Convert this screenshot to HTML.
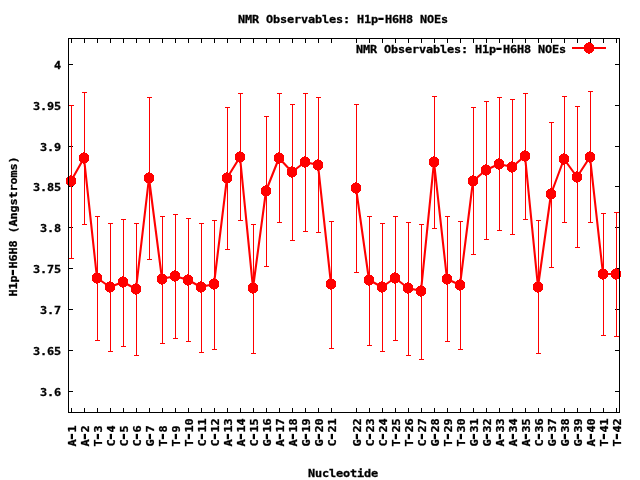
<!DOCTYPE html>
<html><head><meta charset="utf-8"><title>NMR Observables: H1p-H6H8 NOEs</title>
<style>html,body{margin:0;padding:0;background:#fff;overflow:hidden}svg{display:block}text{font-family:"DejaVu Sans Mono","Liberation Mono",monospace;font-weight:bold;font-size:11.63px;fill:#000;stroke:#000;stroke-width:0.3px}</style></head><body>
<svg width="640" height="480" viewBox="0 0 640 480">
<rect width="640" height="480" fill="#fff"/>
<g fill="#000" shape-rendering="crispEdges">
<rect x="68" y="64" width="5" height="1"/><rect x="615" y="64" width="5" height="1"/>
<rect x="68" y="105" width="5" height="1"/><rect x="615" y="105" width="5" height="1"/>
<rect x="68" y="146" width="5" height="1"/><rect x="615" y="146" width="5" height="1"/>
<rect x="68" y="186" width="5" height="1"/><rect x="615" y="186" width="5" height="1"/>
<rect x="68" y="227" width="5" height="1"/><rect x="615" y="227" width="5" height="1"/>
<rect x="68" y="268" width="5" height="1"/><rect x="615" y="268" width="5" height="1"/>
<rect x="68" y="309" width="5" height="1"/><rect x="615" y="309" width="5" height="1"/>
<rect x="68" y="350" width="5" height="1"/><rect x="615" y="350" width="5" height="1"/>
<rect x="68" y="391" width="5" height="1"/><rect x="615" y="391" width="5" height="1"/>
<rect x="71" y="38" width="1" height="5"/><rect x="71" y="408" width="1" height="5"/>
<rect x="84" y="38" width="1" height="5"/><rect x="84" y="408" width="1" height="5"/>
<rect x="97" y="38" width="1" height="5"/><rect x="97" y="408" width="1" height="5"/>
<rect x="110" y="38" width="1" height="5"/><rect x="110" y="408" width="1" height="5"/>
<rect x="123" y="38" width="1" height="5"/><rect x="123" y="408" width="1" height="5"/>
<rect x="136" y="38" width="1" height="5"/><rect x="136" y="408" width="1" height="5"/>
<rect x="149" y="38" width="1" height="5"/><rect x="149" y="408" width="1" height="5"/>
<rect x="162" y="38" width="1" height="5"/><rect x="162" y="408" width="1" height="5"/>
<rect x="175" y="38" width="1" height="5"/><rect x="175" y="408" width="1" height="5"/>
<rect x="188" y="38" width="1" height="5"/><rect x="188" y="408" width="1" height="5"/>
<rect x="201" y="38" width="1" height="5"/><rect x="201" y="408" width="1" height="5"/>
<rect x="214" y="38" width="1" height="5"/><rect x="214" y="408" width="1" height="5"/>
<rect x="227" y="38" width="1" height="5"/><rect x="227" y="408" width="1" height="5"/>
<rect x="240" y="38" width="1" height="5"/><rect x="240" y="408" width="1" height="5"/>
<rect x="253" y="38" width="1" height="5"/><rect x="253" y="408" width="1" height="5"/>
<rect x="266" y="38" width="1" height="5"/><rect x="266" y="408" width="1" height="5"/>
<rect x="279" y="38" width="1" height="5"/><rect x="279" y="408" width="1" height="5"/>
<rect x="292" y="38" width="1" height="5"/><rect x="292" y="408" width="1" height="5"/>
<rect x="305" y="38" width="1" height="5"/><rect x="305" y="408" width="1" height="5"/>
<rect x="318" y="38" width="1" height="5"/><rect x="318" y="408" width="1" height="5"/>
<rect x="331" y="38" width="1" height="5"/><rect x="331" y="408" width="1" height="5"/>
<rect x="356" y="38" width="1" height="5"/><rect x="356" y="408" width="1" height="5"/>
<rect x="369" y="38" width="1" height="5"/><rect x="369" y="408" width="1" height="5"/>
<rect x="382" y="38" width="1" height="5"/><rect x="382" y="408" width="1" height="5"/>
<rect x="395" y="38" width="1" height="5"/><rect x="395" y="408" width="1" height="5"/>
<rect x="408" y="38" width="1" height="5"/><rect x="408" y="408" width="1" height="5"/>
<rect x="421" y="38" width="1" height="5"/><rect x="421" y="408" width="1" height="5"/>
<rect x="434" y="38" width="1" height="5"/><rect x="434" y="408" width="1" height="5"/>
<rect x="447" y="38" width="1" height="5"/><rect x="447" y="408" width="1" height="5"/>
<rect x="460" y="38" width="1" height="5"/><rect x="460" y="408" width="1" height="5"/>
<rect x="473" y="38" width="1" height="5"/><rect x="473" y="408" width="1" height="5"/>
<rect x="486" y="38" width="1" height="5"/><rect x="486" y="408" width="1" height="5"/>
<rect x="499" y="38" width="1" height="5"/><rect x="499" y="408" width="1" height="5"/>
<rect x="512" y="38" width="1" height="5"/><rect x="512" y="408" width="1" height="5"/>
<rect x="525" y="38" width="1" height="5"/><rect x="525" y="408" width="1" height="5"/>
<rect x="538" y="38" width="1" height="5"/><rect x="538" y="408" width="1" height="5"/>
<rect x="551" y="38" width="1" height="5"/><rect x="551" y="408" width="1" height="5"/>
<rect x="564" y="38" width="1" height="5"/><rect x="564" y="408" width="1" height="5"/>
<rect x="577" y="38" width="1" height="5"/><rect x="577" y="408" width="1" height="5"/>
<rect x="590" y="38" width="1" height="5"/><rect x="590" y="408" width="1" height="5"/>
<rect x="603" y="38" width="1" height="5"/><rect x="603" y="408" width="1" height="5"/>
<rect x="616" y="38" width="1" height="5"/><rect x="616" y="408" width="1" height="5"/>
</g>
<g fill="#ff0000" shape-rendering="crispEdges">
<rect x="71" y="105" width="1" height="154"/><rect x="69" y="105" width="5" height="1"/><rect x="69" y="258" width="5" height="1"/>
<rect x="84" y="92" width="1" height="133"/><rect x="82" y="92" width="5" height="1"/><rect x="82" y="224" width="5" height="1"/>
<rect x="97" y="216" width="1" height="125"/><rect x="95" y="216" width="5" height="1"/><rect x="95" y="340" width="5" height="1"/>
<rect x="110" y="223" width="1" height="129"/><rect x="108" y="223" width="5" height="1"/><rect x="108" y="351" width="5" height="1"/>
<rect x="123" y="219" width="1" height="128"/><rect x="121" y="219" width="5" height="1"/><rect x="121" y="346" width="5" height="1"/>
<rect x="136" y="223" width="1" height="133"/><rect x="134" y="223" width="5" height="1"/><rect x="134" y="355" width="5" height="1"/>
<rect x="149" y="97" width="1" height="163"/><rect x="147" y="97" width="5" height="1"/><rect x="147" y="259" width="5" height="1"/>
<rect x="162" y="216" width="1" height="128"/><rect x="160" y="216" width="5" height="1"/><rect x="160" y="343" width="5" height="1"/>
<rect x="175" y="214" width="1" height="125"/><rect x="173" y="214" width="5" height="1"/><rect x="173" y="338" width="5" height="1"/>
<rect x="188" y="218" width="1" height="124"/><rect x="186" y="218" width="5" height="1"/><rect x="186" y="341" width="5" height="1"/>
<rect x="201" y="223" width="1" height="130"/><rect x="199" y="223" width="5" height="1"/><rect x="199" y="352" width="5" height="1"/>
<rect x="214" y="220" width="1" height="130"/><rect x="212" y="220" width="5" height="1"/><rect x="212" y="349" width="5" height="1"/>
<rect x="227" y="107" width="1" height="143"/><rect x="225" y="107" width="5" height="1"/><rect x="225" y="249" width="5" height="1"/>
<rect x="240" y="93" width="1" height="128"/><rect x="238" y="93" width="5" height="1"/><rect x="238" y="220" width="5" height="1"/>
<rect x="253" y="224" width="1" height="130"/><rect x="251" y="224" width="5" height="1"/><rect x="251" y="353" width="5" height="1"/>
<rect x="266" y="116" width="1" height="151"/><rect x="264" y="116" width="5" height="1"/><rect x="264" y="266" width="5" height="1"/>
<rect x="279" y="93" width="1" height="130"/><rect x="277" y="93" width="5" height="1"/><rect x="277" y="222" width="5" height="1"/>
<rect x="292" y="104" width="1" height="137"/><rect x="290" y="104" width="5" height="1"/><rect x="290" y="240" width="5" height="1"/>
<rect x="305" y="93" width="1" height="139"/><rect x="303" y="93" width="5" height="1"/><rect x="303" y="231" width="5" height="1"/>
<rect x="318" y="97" width="1" height="136"/><rect x="316" y="97" width="5" height="1"/><rect x="316" y="232" width="5" height="1"/>
<rect x="331" y="221" width="1" height="128"/><rect x="329" y="221" width="5" height="1"/><rect x="329" y="348" width="5" height="1"/>
<rect x="356" y="104" width="1" height="169"/><rect x="354" y="104" width="5" height="1"/><rect x="354" y="272" width="5" height="1"/>
<rect x="369" y="216" width="1" height="130"/><rect x="367" y="216" width="5" height="1"/><rect x="367" y="345" width="5" height="1"/>
<rect x="382" y="223" width="1" height="129"/><rect x="380" y="223" width="5" height="1"/><rect x="380" y="351" width="5" height="1"/>
<rect x="395" y="216" width="1" height="125"/><rect x="393" y="216" width="5" height="1"/><rect x="393" y="340" width="5" height="1"/>
<rect x="408" y="222" width="1" height="134"/><rect x="406" y="222" width="5" height="1"/><rect x="406" y="355" width="5" height="1"/>
<rect x="421" y="224" width="1" height="136"/><rect x="419" y="224" width="5" height="1"/><rect x="419" y="359" width="5" height="1"/>
<rect x="434" y="96" width="1" height="133"/><rect x="432" y="96" width="5" height="1"/><rect x="432" y="228" width="5" height="1"/>
<rect x="447" y="216" width="1" height="126"/><rect x="445" y="216" width="5" height="1"/><rect x="445" y="341" width="5" height="1"/>
<rect x="460" y="221" width="1" height="129"/><rect x="458" y="221" width="5" height="1"/><rect x="458" y="349" width="5" height="1"/>
<rect x="473" y="107" width="1" height="148"/><rect x="471" y="107" width="5" height="1"/><rect x="471" y="254" width="5" height="1"/>
<rect x="486" y="101" width="1" height="139"/><rect x="484" y="101" width="5" height="1"/><rect x="484" y="239" width="5" height="1"/>
<rect x="499" y="97" width="1" height="134"/><rect x="497" y="97" width="5" height="1"/><rect x="497" y="230" width="5" height="1"/>
<rect x="512" y="99" width="1" height="136"/><rect x="510" y="99" width="5" height="1"/><rect x="510" y="234" width="5" height="1"/>
<rect x="525" y="93" width="1" height="127"/><rect x="523" y="93" width="5" height="1"/><rect x="523" y="219" width="5" height="1"/>
<rect x="538" y="220" width="1" height="134"/><rect x="536" y="220" width="5" height="1"/><rect x="536" y="353" width="5" height="1"/>
<rect x="551" y="122" width="1" height="146"/><rect x="549" y="122" width="5" height="1"/><rect x="549" y="267" width="5" height="1"/>
<rect x="564" y="96" width="1" height="127"/><rect x="562" y="96" width="5" height="1"/><rect x="562" y="222" width="5" height="1"/>
<rect x="577" y="106" width="1" height="142"/><rect x="575" y="106" width="5" height="1"/><rect x="575" y="247" width="5" height="1"/>
<rect x="590" y="91" width="1" height="132"/><rect x="588" y="91" width="5" height="1"/><rect x="588" y="222" width="5" height="1"/>
<rect x="603" y="213" width="1" height="123"/><rect x="601" y="213" width="5" height="1"/><rect x="601" y="335" width="5" height="1"/>
<rect x="616" y="212" width="1" height="125"/><rect x="614" y="212" width="5" height="1"/><rect x="614" y="336" width="5" height="1"/>
</g>
<g fill="none" stroke="#ff0000" stroke-width="2.1" stroke-linejoin="round" stroke-linecap="butt">
<polyline points="71,181 84,158 97,278 110,287 123,282 136,289 149,178 162,279 175,276 188,280 201,287 214,284 227,178 240,157 253,288 266,191 279,158 292,172 305,162 318,165 331,284"/>
<polyline points="356,188 369,280 382,287 395,278 408,288 421,291 434,162 447,279 460,285 473,181 486,170 499,164 512,167 525,156 538,287 551,194 564,159 577,177 590,157 603,274 616,274"/>
<line x1="572" y1="48" x2="606" y2="48"/>
</g>
<defs><g id="m" shape-rendering="crispEdges"><rect x="-1" y="-6" width="2" height="12"/><rect x="-3" y="-5" width="6" height="10"/><rect x="-4" y="-4" width="8" height="8"/><rect x="-5" y="-3" width="10" height="6"/></g></defs>
<g fill="#ff0000">
<use href="#m" x="71" y="181"/>
<use href="#m" x="84" y="158"/>
<use href="#m" x="97" y="278"/>
<use href="#m" x="110" y="287"/>
<use href="#m" x="123" y="282"/>
<use href="#m" x="136" y="289"/>
<use href="#m" x="149" y="178"/>
<use href="#m" x="162" y="279"/>
<use href="#m" x="175" y="276"/>
<use href="#m" x="188" y="280"/>
<use href="#m" x="201" y="287"/>
<use href="#m" x="214" y="284"/>
<use href="#m" x="227" y="178"/>
<use href="#m" x="240" y="157"/>
<use href="#m" x="253" y="288"/>
<use href="#m" x="266" y="191"/>
<use href="#m" x="279" y="158"/>
<use href="#m" x="292" y="172"/>
<use href="#m" x="305" y="162"/>
<use href="#m" x="318" y="165"/>
<use href="#m" x="331" y="284"/>
<use href="#m" x="356" y="188"/>
<use href="#m" x="369" y="280"/>
<use href="#m" x="382" y="287"/>
<use href="#m" x="395" y="278"/>
<use href="#m" x="408" y="288"/>
<use href="#m" x="421" y="291"/>
<use href="#m" x="434" y="162"/>
<use href="#m" x="447" y="279"/>
<use href="#m" x="460" y="285"/>
<use href="#m" x="473" y="181"/>
<use href="#m" x="486" y="170"/>
<use href="#m" x="499" y="164"/>
<use href="#m" x="512" y="167"/>
<use href="#m" x="525" y="156"/>
<use href="#m" x="538" y="287"/>
<use href="#m" x="551" y="194"/>
<use href="#m" x="564" y="159"/>
<use href="#m" x="577" y="177"/>
<use href="#m" x="590" y="157"/>
<use href="#m" x="603" y="274"/>
<use href="#m" x="616" y="274"/>
<use href="#m" x="589" y="48"/>
</g>
<g fill="#000" shape-rendering="crispEdges">
<rect x="68" y="38" width="552" height="1"/><rect x="68" y="412" width="552" height="1"/><rect x="68" y="38" width="1" height="375"/><rect x="619" y="38" width="1" height="375"/>
</g>
<g>
<text transform="translate(238,23) scale(1.02,0.92)" x="0.0 6.86 13.73 20.59 27.45 34.31 41.18 48.04 54.9 61.76 68.63 75.49 82.35 89.22 96.08 102.94 109.8 116.67 123.53 130.39 137.25 144.12 150.98 157.84 164.71 171.57 178.43 185.29 192.16 199.02" y="0">NMR Observables: H1p<tspan x="135.14" font-size="17" stroke="none">-</tspan>H6H8 NOEs</text>
<text transform="translate(356,53) scale(1.02,0.92)" x="0.0 6.86 13.73 20.59 27.45 34.31 41.18 48.04 54.9 61.76 68.63 75.49 82.35 89.22 96.08 102.94 109.8 116.67 123.53 130.39 137.25 144.12 150.98 157.84 164.71 171.57 178.43 185.29 192.16 199.02" y="0">NMR Observables: H1p<tspan x="135.14" font-size="17" stroke="none">-</tspan>H6H8 NOEs</text>
<text transform="translate(54,69) scale(1.02,0.92)" x="0.0" y="0">4</text>
<text transform="translate(33,110) scale(1.02,0.92)" x="0.0 6.86 13.73 20.59" y="0">3.95</text>
<text transform="translate(40,151) scale(1.02,0.92)" x="0.0 6.86 13.73" y="0">3.9</text>
<text transform="translate(33,191) scale(1.02,0.92)" x="0.0 6.86 13.73 20.59" y="0">3.85</text>
<text transform="translate(40,232) scale(1.02,0.92)" x="0.0 6.86 13.73" y="0">3.8</text>
<text transform="translate(33,273) scale(1.02,0.92)" x="0.0 6.86 13.73 20.59" y="0">3.75</text>
<text transform="translate(40,314) scale(1.02,0.92)" x="0.0 6.86 13.73" y="0">3.7</text>
<text transform="translate(33,355) scale(1.02,0.92)" x="0.0 6.86 13.73 20.59" y="0">3.65</text>
<text transform="translate(40,396) scale(1.02,0.92)" x="0.0 6.86 13.73" y="0">3.6</text>
<text transform="translate(308,477) scale(1.02,0.92)" x="0.0 6.86 13.73 20.59 27.45 34.31 41.18 48.04 54.9 61.76" y="0">Nucleotide</text>
<text transform="translate(17,296.5) rotate(-90) scale(1.02,0.92)" x="0.0 6.86 13.73 20.59 27.45 34.31 41.18 48.04 54.9 61.76 68.63 75.49 82.35 89.22 96.08 102.94 109.8 116.67 123.53 130.39" y="0">H1p<tspan x="18.47" font-size="17" stroke="none">-</tspan>H6H8 (Angstroms)</text>
<text transform="translate(76,446.5) rotate(-90) scale(1.02,0.92)" x="0.0 6.86 13.73" y="0">A<tspan x="4.75" font-size="17" stroke="none">-</tspan>1</text>
<text transform="translate(89,446.5) rotate(-90) scale(1.02,0.92)" x="0.0 6.86 13.73" y="0">A<tspan x="4.75" font-size="17" stroke="none">-</tspan>2</text>
<text transform="translate(102,446.5) rotate(-90) scale(1.02,0.92)" x="0.0 6.86 13.73" y="0">T<tspan x="4.75" font-size="17" stroke="none">-</tspan>3</text>
<text transform="translate(115,446.5) rotate(-90) scale(1.02,0.92)" x="0.0 6.86 13.73" y="0">C<tspan x="4.75" font-size="17" stroke="none">-</tspan>4</text>
<text transform="translate(128,446.5) rotate(-90) scale(1.02,0.92)" x="0.0 6.86 13.73" y="0">C<tspan x="4.75" font-size="17" stroke="none">-</tspan>5</text>
<text transform="translate(141,446.5) rotate(-90) scale(1.02,0.92)" x="0.0 6.86 13.73" y="0">C<tspan x="4.75" font-size="17" stroke="none">-</tspan>6</text>
<text transform="translate(154,446.5) rotate(-90) scale(1.02,0.92)" x="0.0 6.86 13.73" y="0">G<tspan x="4.75" font-size="17" stroke="none">-</tspan>7</text>
<text transform="translate(167,446.5) rotate(-90) scale(1.02,0.92)" x="0.0 6.86 13.73" y="0">T<tspan x="4.75" font-size="17" stroke="none">-</tspan>8</text>
<text transform="translate(180,446.5) rotate(-90) scale(1.02,0.92)" x="0.0 6.86 13.73" y="0">T<tspan x="4.75" font-size="17" stroke="none">-</tspan>9</text>
<text transform="translate(193,446.5) rotate(-90) scale(1.02,0.92)" x="0.0 6.86 13.73 20.59" y="0">T<tspan x="4.75" font-size="17" stroke="none">-</tspan>10</text>
<text transform="translate(206,446.5) rotate(-90) scale(1.02,0.92)" x="0.0 6.86 13.73 20.59" y="0">C<tspan x="4.75" font-size="17" stroke="none">-</tspan>11</text>
<text transform="translate(219,446.5) rotate(-90) scale(1.02,0.92)" x="0.0 6.86 13.73 20.59" y="0">C<tspan x="4.75" font-size="17" stroke="none">-</tspan>12</text>
<text transform="translate(232,446.5) rotate(-90) scale(1.02,0.92)" x="0.0 6.86 13.73 20.59" y="0">A<tspan x="4.75" font-size="17" stroke="none">-</tspan>13</text>
<text transform="translate(245,446.5) rotate(-90) scale(1.02,0.92)" x="0.0 6.86 13.73 20.59" y="0">A<tspan x="4.75" font-size="17" stroke="none">-</tspan>14</text>
<text transform="translate(258,446.5) rotate(-90) scale(1.02,0.92)" x="0.0 6.86 13.73 20.59" y="0">C<tspan x="4.75" font-size="17" stroke="none">-</tspan>15</text>
<text transform="translate(271,446.5) rotate(-90) scale(1.02,0.92)" x="0.0 6.86 13.73 20.59" y="0">G<tspan x="4.75" font-size="17" stroke="none">-</tspan>16</text>
<text transform="translate(284,446.5) rotate(-90) scale(1.02,0.92)" x="0.0 6.86 13.73 20.59" y="0">A<tspan x="4.75" font-size="17" stroke="none">-</tspan>17</text>
<text transform="translate(297,446.5) rotate(-90) scale(1.02,0.92)" x="0.0 6.86 13.73 20.59" y="0">A<tspan x="4.75" font-size="17" stroke="none">-</tspan>18</text>
<text transform="translate(310,446.5) rotate(-90) scale(1.02,0.92)" x="0.0 6.86 13.73 20.59" y="0">G<tspan x="4.75" font-size="17" stroke="none">-</tspan>19</text>
<text transform="translate(323,446.5) rotate(-90) scale(1.02,0.92)" x="0.0 6.86 13.73 20.59" y="0">G<tspan x="4.75" font-size="17" stroke="none">-</tspan>20</text>
<text transform="translate(336,446.5) rotate(-90) scale(1.02,0.92)" x="0.0 6.86 13.73 20.59" y="0">C<tspan x="4.75" font-size="17" stroke="none">-</tspan>21</text>
<text transform="translate(361,446.5) rotate(-90) scale(1.02,0.92)" x="0.0 6.86 13.73 20.59" y="0">G<tspan x="4.75" font-size="17" stroke="none">-</tspan>22</text>
<text transform="translate(374,446.5) rotate(-90) scale(1.02,0.92)" x="0.0 6.86 13.73 20.59" y="0">C<tspan x="4.75" font-size="17" stroke="none">-</tspan>23</text>
<text transform="translate(387,446.5) rotate(-90) scale(1.02,0.92)" x="0.0 6.86 13.73 20.59" y="0">C<tspan x="4.75" font-size="17" stroke="none">-</tspan>24</text>
<text transform="translate(400,446.5) rotate(-90) scale(1.02,0.92)" x="0.0 6.86 13.73 20.59" y="0">T<tspan x="4.75" font-size="17" stroke="none">-</tspan>25</text>
<text transform="translate(413,446.5) rotate(-90) scale(1.02,0.92)" x="0.0 6.86 13.73 20.59" y="0">T<tspan x="4.75" font-size="17" stroke="none">-</tspan>26</text>
<text transform="translate(426,446.5) rotate(-90) scale(1.02,0.92)" x="0.0 6.86 13.73 20.59" y="0">C<tspan x="4.75" font-size="17" stroke="none">-</tspan>27</text>
<text transform="translate(439,446.5) rotate(-90) scale(1.02,0.92)" x="0.0 6.86 13.73 20.59" y="0">G<tspan x="4.75" font-size="17" stroke="none">-</tspan>28</text>
<text transform="translate(452,446.5) rotate(-90) scale(1.02,0.92)" x="0.0 6.86 13.73 20.59" y="0">T<tspan x="4.75" font-size="17" stroke="none">-</tspan>29</text>
<text transform="translate(465,446.5) rotate(-90) scale(1.02,0.92)" x="0.0 6.86 13.73 20.59" y="0">T<tspan x="4.75" font-size="17" stroke="none">-</tspan>30</text>
<text transform="translate(478,446.5) rotate(-90) scale(1.02,0.92)" x="0.0 6.86 13.73 20.59" y="0">G<tspan x="4.75" font-size="17" stroke="none">-</tspan>31</text>
<text transform="translate(491,446.5) rotate(-90) scale(1.02,0.92)" x="0.0 6.86 13.73 20.59" y="0">G<tspan x="4.75" font-size="17" stroke="none">-</tspan>32</text>
<text transform="translate(504,446.5) rotate(-90) scale(1.02,0.92)" x="0.0 6.86 13.73 20.59" y="0">A<tspan x="4.75" font-size="17" stroke="none">-</tspan>33</text>
<text transform="translate(517,446.5) rotate(-90) scale(1.02,0.92)" x="0.0 6.86 13.73 20.59" y="0">A<tspan x="4.75" font-size="17" stroke="none">-</tspan>34</text>
<text transform="translate(530,446.5) rotate(-90) scale(1.02,0.92)" x="0.0 6.86 13.73 20.59" y="0">A<tspan x="4.75" font-size="17" stroke="none">-</tspan>35</text>
<text transform="translate(543,446.5) rotate(-90) scale(1.02,0.92)" x="0.0 6.86 13.73 20.59" y="0">C<tspan x="4.75" font-size="17" stroke="none">-</tspan>36</text>
<text transform="translate(556,446.5) rotate(-90) scale(1.02,0.92)" x="0.0 6.86 13.73 20.59" y="0">G<tspan x="4.75" font-size="17" stroke="none">-</tspan>37</text>
<text transform="translate(569,446.5) rotate(-90) scale(1.02,0.92)" x="0.0 6.86 13.73 20.59" y="0">G<tspan x="4.75" font-size="17" stroke="none">-</tspan>38</text>
<text transform="translate(582,446.5) rotate(-90) scale(1.02,0.92)" x="0.0 6.86 13.73 20.59" y="0">G<tspan x="4.75" font-size="17" stroke="none">-</tspan>39</text>
<text transform="translate(595,446.5) rotate(-90) scale(1.02,0.92)" x="0.0 6.86 13.73 20.59" y="0">A<tspan x="4.75" font-size="17" stroke="none">-</tspan>40</text>
<text transform="translate(608,446.5) rotate(-90) scale(1.02,0.92)" x="0.0 6.86 13.73 20.59" y="0">T<tspan x="4.75" font-size="17" stroke="none">-</tspan>41</text>
<text transform="translate(621,446.5) rotate(-90) scale(1.02,0.92)" x="0.0 6.86 13.73 20.59" y="0">T<tspan x="4.75" font-size="17" stroke="none">-</tspan>42</text>
</g>
</svg></body></html>
